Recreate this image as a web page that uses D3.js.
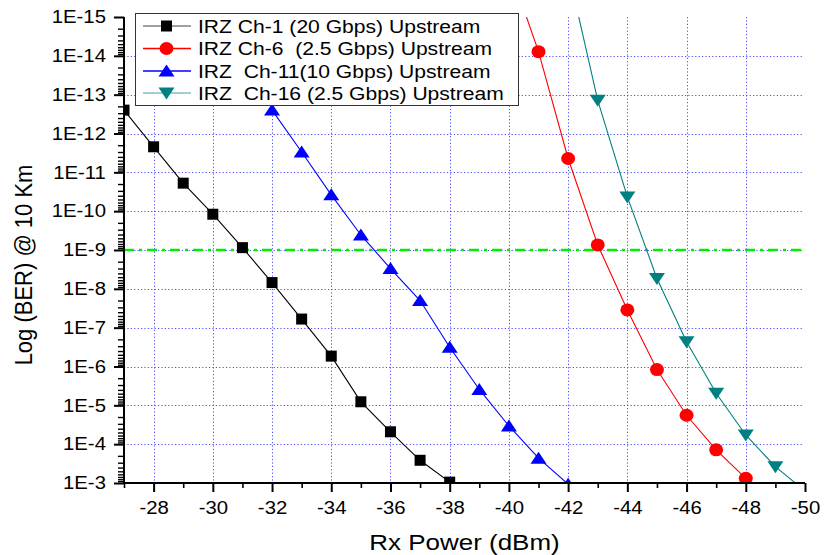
<!DOCTYPE html>
<html>
<head>
<meta charset="utf-8">
<script src="https://cdn.jsdelivr.net/npm/d3@7/dist/d3.min.js"></script>
<style>
  html, body { margin: 0; padding: 0; background: #fff; }
  svg { display: block; font-family: "Liberation Sans", Arial, sans-serif; }
</style>
</head>
<body>
<svg id="chart" width="824" height="555"></svg>
<script>
// ---------------- data ----------------
const ch1X   = [-27, -28, -29, -30, -31, -32, -33, -34, -35, -36, -37, -38];
const ch1BER = [2.5e-13, 2.2e-12, 1.9e-11, 1.2e-10, 8.7e-10, 6.9e-9, 6.0e-8, 5.4e-7, 8.1e-6, 4.8e-5, 2.6e-4, 9.5e-4];

const ch6X   = [-40, -41, -42, -43, -44, -45, -46, -47, -48];
const ch6BER = [5.0e-17, 7.8e-15, 4.4e-12, 7.4e-10, 3.5e-8, 1.2e-6, 1.8e-5, 1.4e-4, 7.6e-4];

const ch11X   = [-32, -33, -34, -35, -36, -37, -38, -39, -40, -41, -42];
const ch11BER = [2.5e-13, 3.0e-12, 3.8e-11, 4.1e-10, 3.0e-9, 2.0e-8, 3.2e-7, 3.9e-6, 3.4e-5, 2.3e-4, 1.07e-3];

const ch16X   = [-42, -43, -44, -45, -46, -47, -48, -49, -50];
const ch16BER = [6.3e-17, 1.4e-13, 4.3e-11, 5.4e-9, 2.3e-7, 4.9e-6, 5.8e-5, 3.8e-4, 1.6e-3];

const seriesNames = [
  "IRZ Ch-1 (20 Gbps) Upstream",
  "IRZ Ch-6  (2.5 Gbps) Upstream",
  "IRZ  Ch-11(10 Gbps) Upstream",
  "IRZ  Ch-16 (2.5 Gbps) Upstream"
];
const xMajorTicks = [-28, -30, -32, -34, -36, -38, -40, -42, -44, -46, -48, -50];
const xMinorTicks = [-27, -29, -31, -33, -35, -37, -39, -41, -43, -45, -47, -49];
const yMajorTicks = [1e-3, 1e-4, 1e-5, 1e-6, 1e-7, 1e-8, 1e-9, 1e-10, 1e-11, 1e-12, 1e-13, 1e-14, 1e-15];
const thresholdBER = 1e-9;
const xTitle = "Rx Power (dBm)";
const yTitle = "Log (BER) @ 10 Km";

// ---------------- layout ----------------
const L = 124, R = 805, T = 17, B = 483;
const SX = 1.13;
const svg = d3.select("#chart");

const x = d3.scaleLinear().domain([-27, -50]).range([L, R]);
const y = d3.scaleLog().domain([1e-3, 1e-15]).range([B, T]);

// clip
svg.append("defs").append("clipPath").attr("id", "plotclip")
  .append("rect").attr("x", L).attr("y", T).attr("width", R - L).attr("height", B - T);

// grid
const grid = svg.append("g").attr("stroke", "#3a3aff").attr("stroke-width", 1)
  .attr("stroke-dasharray", "1.2,2.2").attr("opacity", 0.9);
grid.selectAll("line.v").data(xMajorTicks.filter(d => d !== -50)).join("line")
  .attr("class", "v")
  .attr("x1", d => Math.round(x(d)) + 0.5).attr("x2", d => Math.round(x(d)) + 0.5)
  .attr("y1", T).attr("y2", B);
grid.selectAll("line.h").data(yMajorTicks.filter(d => d !== 1e-3 && d !== 1e-15)).join("line")
  .attr("class", "h")
  .attr("x1", L).attr("x2", R - 2)
  .attr("y1", d => Math.round(y(d)) + 0.5).attr("y2", d => Math.round(y(d)) + 0.5);

// threshold line
svg.append("line")
  .attr("x1", L).attr("x2", R).attr("y1", y(thresholdBER)).attr("y2", y(thresholdBER))
  .attr("stroke", "#00ee00").attr("stroke-width", 2.5).attr("stroke-dasharray", "10,5,3,5");

// series
const series = [
  { xs: ch1X,  ys: ch1BER,  color: "#000000", legendColor: "#808080", shape: "square" },
  { xs: ch6X,  ys: ch6BER,  color: "#ff0000", legendColor: "#ff0000", shape: "circle" },
  { xs: ch11X, ys: ch11BER, color: "#0000ff", legendColor: "#0000ff", shape: "up" },
  { xs: ch16X, ys: ch16BER, color: "#008080", legendColor: "#7fbfbf", shape: "down" }
];

function drawMarker(g, shape, cx, cy, color) {
  if (shape === "square") {
    g.append("rect").attr("x", cx - 5.5).attr("y", cy - 5.5).attr("width", 11).attr("height", 11).attr("fill", color);
  } else if (shape === "circle") {
    g.append("ellipse").attr("cx", cx).attr("cy", cy).attr("rx", 7).attr("ry", 6.5).attr("fill", color);
  } else if (shape === "up") {
    g.append("path").attr("d", `M${cx},${cy - 6.5}L${cx + 8},${cy + 5.5}L${cx - 8},${cy + 5.5}Z`).attr("fill", color);
  } else {
    g.append("path").attr("d", `M${cx - 8},${cy - 5.5}L${cx + 8},${cy - 5.5}L${cx},${cy + 6.5}Z`).attr("fill", color);
  }
}

const plot = svg.append("g").attr("clip-path", "url(#plotclip)");
const line = d3.line().x(d => x(d[0])).y(d => y(d[1]));
series.forEach(s => {
  const pts = s.xs.map((v, i) => [v, s.ys[i]]);
  plot.append("path").datum(pts).attr("d", line)
    .attr("fill", "none").attr("stroke", s.color).attr("stroke-width", 1.1);
});
series.forEach(s => {
  const g = plot.append("g");
  s.xs.forEach((v, i) => drawMarker(g, s.shape, x(v), y(s.ys[i]), s.color));
});

// axes
const xAxis = svg.append("g").attr("transform", `translate(0,${B})`)
  .call(d3.axisBottom(x).tickValues(xMajorTicks).tickSize(9).tickPadding(9).tickFormat(d => String(d)));
const xAxisMinor = svg.append("g").attr("transform", `translate(0,${B})`)
  .call(d3.axisBottom(x).tickValues(xMinorTicks).tickSize(5).tickFormat(""));
const yMinor = [];
for (let k = -15; k < -3; k++) for (let m = 2; m <= 9; m++) yMinor.push(m * Math.pow(10, k));
const yAxis = svg.append("g").attr("transform", `translate(${L},0)`)
  .call(d3.axisLeft(y).tickValues(yMajorTicks).tickSize(10).tickPadding(6)
    .tickFormat(d => "1E" + Math.round(Math.log10(d))));
const yAxisMinor = svg.append("g").attr("transform", `translate(${L},0)`)
  .call(d3.axisLeft(y).tickValues(yMinor).tickSize(6).tickFormat(""));

[xAxis, xAxisMinor, yAxis, yAxisMinor].forEach(a => {
  a.select(".domain").remove();
  a.selectAll(".tick line").attr("stroke", "#000").attr("stroke-width", 2);
});
xAxisMinor.selectAll(".tick line").attr("stroke-width", 1.6);
yAxisMinor.selectAll(".tick line").attr("stroke-width", 1.4);
[xAxis, yAxis].forEach(a => {
  a.selectAll(".tick text").attr("fill", "#000").attr("font-size", 18)
    .attr("font-family", "Liberation Sans, Arial, sans-serif")
    .attr("transform", `scale(${SX},1)`);
});
// axis lines
svg.append("line").attr("x1", L).attr("x2", L).attr("y1", T).attr("y2", B + 1)
  .attr("stroke", "#000").attr("stroke-width", 2);
svg.append("line").attr("x1", L - 1).attr("x2", R).attr("y1", B).attr("y2", B)
  .attr("stroke", "#000").attr("stroke-width", 2);

// titles
svg.append("g").attr("transform", `translate(464.5,550) scale(1.18,1)`)
  .append("text").attr("text-anchor", "middle").attr("font-size", 22).attr("fill", "#000").text(xTitle);
svg.append("g").attr("transform", `translate(32,265) scale(1.12,1) rotate(-90)`)
  .append("text").attr("text-anchor", "middle").attr("font-size", 22).attr("fill", "#000").text(yTitle);

// legend
const lg = svg.append("g");
lg.append("rect").attr("x", 135.5).attr("y", 13.5).attr("width", 383).attr("height", 92)
  .attr("fill", "#fff").attr("stroke", "#333").attr("stroke-width", 1);
const rowY = [26, 48.5, 71, 93];
series.forEach((s, i) => {
  const cy = rowY[i];
  lg.append("line").attr("x1", 143).attr("x2", 191).attr("y1", cy).attr("y2", cy)
    .attr("stroke", s.legendColor).attr("stroke-width", 1.6);
  drawMarker(lg, s.shape, 166.5, cy, s.color);
  lg.append("g").attr("transform", `translate(198,${cy + 6.5}) scale(1.14,1)`)
    .append("text").attr("font-size", 18.5).attr("fill", "#000")
    .style("white-space", "pre").attr("xml:space", "preserve").text(seriesNames[i]);
});
</script>
</body>
</html>
